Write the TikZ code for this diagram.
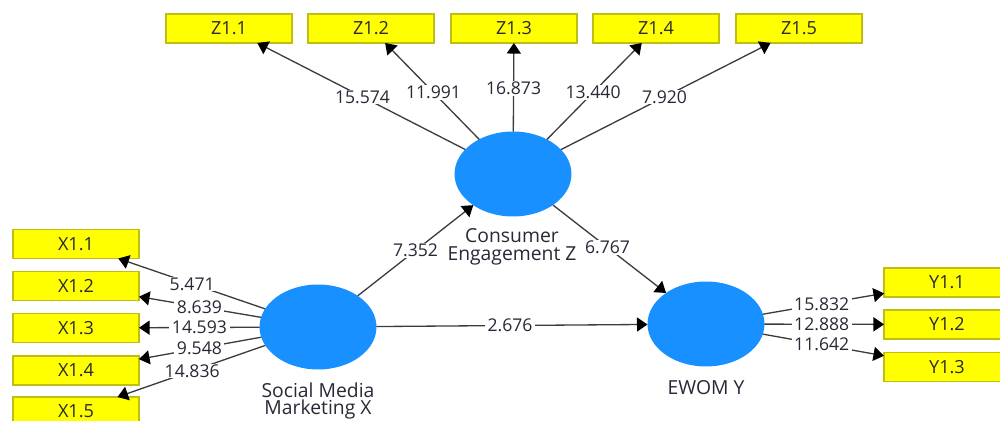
\documentclass[tikz,border=0pt]{standalone}
\usepackage{fontspec}
\setmainfont{Open Sans}
\usetikzlibrary{shapes.geometric,arrows.meta,calc}
\definecolor{lvblue}{RGB}{24,144,255}
\definecolor{mvfill}{RGB}{255,255,0}
\definecolor{mvedge}{RGB}{190,190,20}
\definecolor{txt}{RGB}{40,40,55}
\definecolor{edge}{RGB}{60,60,60}
\begin{document}
\begin{tikzpicture}[x=0.02cm,y=-0.02cm,
  lv/.style={ellipse, fill=lvblue, minimum width=2.34cm, minimum height=1.70cm, inner sep=0pt, outer sep=0pt},
  mv/.style={rectangle, draw=mvedge, line width=0.6pt, fill=mvfill, minimum width=2.52cm, minimum height=0.58cm, inner sep=0pt, outer sep=0pt, font=\fontsize{10.3}{12}\selectfont, text=txt},
  lvcaption/.style={align=center, font=\fontsize{11}{10.2}\selectfont, text=txt},
  num/.style={fill=white, inner xsep=1.5pt, inner ysep=0.5pt, font=\fontsize{10}{12}\selectfont, text=txt},
  link/.style={draw=edge, line width=0.75pt, -{Triangle[length=6pt,width=8pt,color=black]}}
]
\useasboundingbox (0,0) rectangle (1000,421);
\clip (0,0) rectangle (1000,421);

% latent variables
\node[lv] (cez) at (513,174) {};
\node[lv] (smm) at (318,327) {};
\node[lv] (ewom) at (706,324) {};
\node[lvcaption] (cezcap) at (512,247) {Consumer\\Engagement Z};
\node[lvcaption] (smmcap) at (318,401) {Social Media\\Marketing X};
\node[lvcaption] (ewomcap) at (706,388) {EWOM Y};

% indicators of Z
\node[mv] (z1) at (229,28.5) {Z1.1};
\node[mv] (z2) at (371,28.5) {Z1.2};
\node[mv] (z3) at (514,28.5) {Z1.3};
\node[mv] (z4) at (656,28.5) {Z1.4};
\node[mv] (z5) at (799,28.5) {Z1.5};

% indicators of X
\node[mv] (x1) at (76,244) {X1.1};
\node[mv] (x2) at (76,286) {X1.2};
\node[mv] (x3) at (76,328) {X1.3};
\node[mv] (x4) at (76,370.5) {X1.4};
\node[mv] (x5) at (76,411.5) {X1.5};

% indicators of Y
\node[mv] (y1) at (947,282.5) {Y1.1};
\node[mv] (y2) at (947,324.5) {Y1.2};
\node[mv] (y3) at (947,367) {Y1.3};

% outer loadings
\foreach \t in {z1,z2,z3,z4,z5} \draw[link] (cez) -- (\t);
\foreach \t in {x1,x2,x3,x4,x5} \draw[link] (smm) -- (\t);
\foreach \t in {y1,y2,y3} \draw[link] (ewom) -- (\t);

% structural paths
\draw[link] (smm) -- (cez);
\draw[link] (cez) -- (ewom);
\draw[link] (smm) -- (ewom);

% t-values
\node[num] (tz1) at ($(cez)!0.53!(z1)$) {15.574};
\node[num] (tz2) at ($(cez)!0.56!(z2)$) {11.991};
\node[num] (tz3) at ($(cez)!0.59!(z3)$) {16.873};
\node[num] (tz4) at ($(cez)!0.56!(z4)$) {13.440};
\node[num] (tz5) at ($(cez)!0.53!(z5)$) {7.920};

\node[num] (tx1) at ($(smm)!0.52!(x1)$) {5.471};
\node[num] (tx2) at ($(smm)!0.49!(x2)$) {8.639};
\node[num] (tx3) at ($(smm)!0.49!(x3)$) {14.593};
\node[num] (tx4) at ($(smm)!0.49!(x4)$) {9.548};
\node[num] (tx5) at ($(smm)!0.52!(x5)$) {14.836};

\node[num] (ty1) at ($(ewom)!0.48!(y1)$) {15.832};
\node[num] (ty2) at ($(ewom)!0.48!(y2)$) {12.888};
\node[num] (ty3) at ($(ewom)!0.48!(y3)$) {11.642};

\node[num] (tsc) at ($(smm)!0.5!(cez)$) {7.352};
\node[num] (tce) at ($(cez)!0.49!(ewom)$) {6.767};
\node[num] (tse) at ($(smm)!0.495!(ewom)$) {2.676};
\end{tikzpicture}
\end{document}
